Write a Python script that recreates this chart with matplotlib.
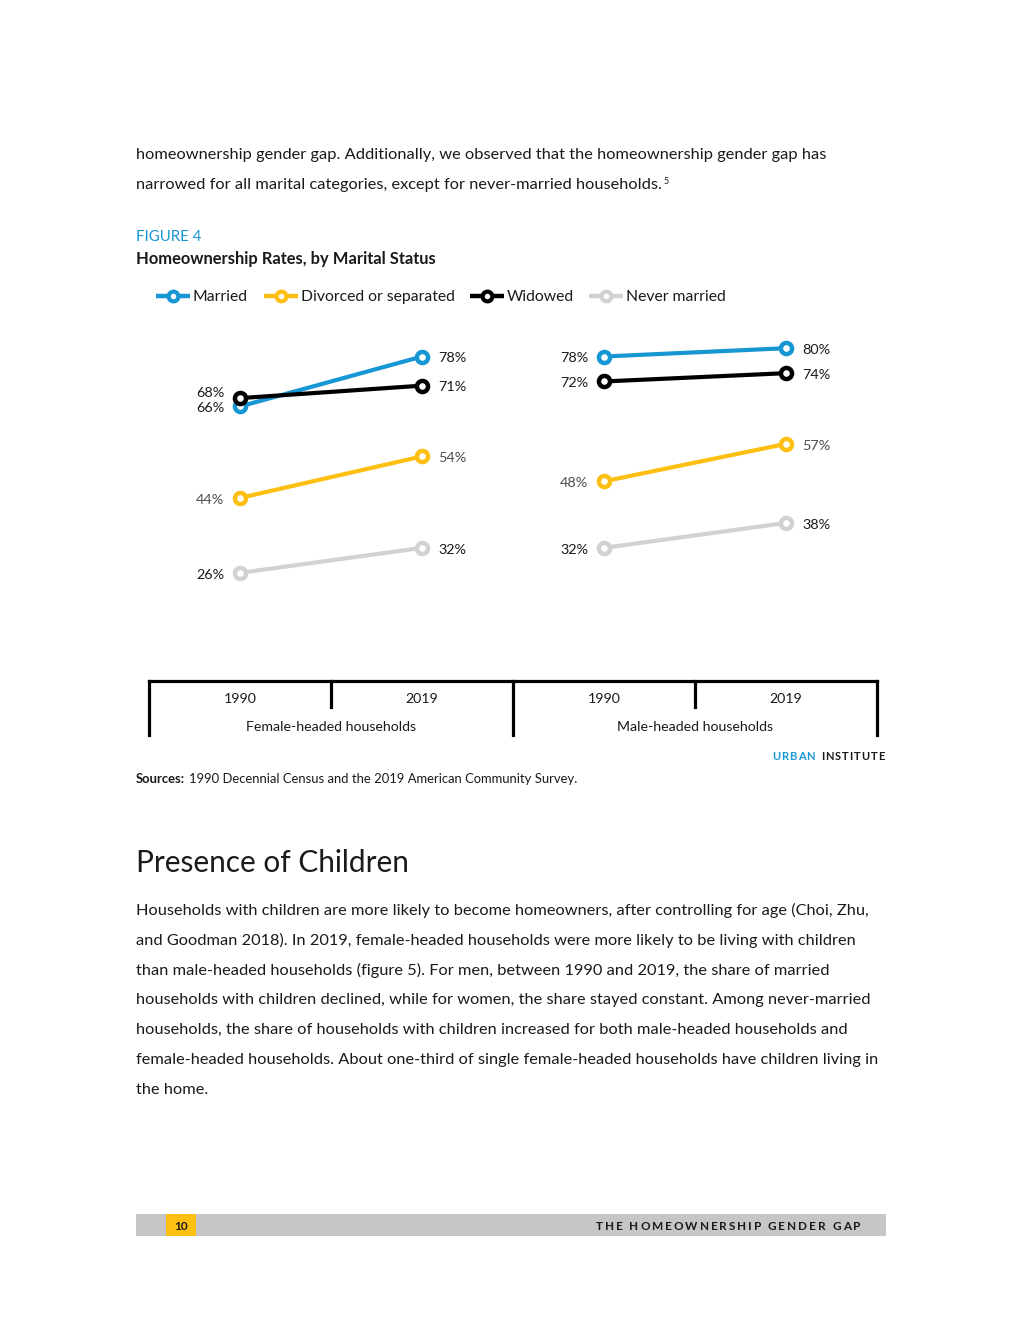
import matplotlib.pyplot as plt
from matplotlib.patches import Rectangle

plt.rcParams['font.family'] = ['Lato', 'DejaVu Sans']

# data
groups = ['Female-headed households', 'Male-headed households']
years = ['1990', '2019']
series = ['Married', 'Divorced or separated', 'Widowed', 'Never married']
colors = ['#1696d2', '#fdbf11', '#000000', '#d2d2d2']
label_colors = ['#1a1a1a', '#4d4d4d', '#1a1a1a', '#1a1a1a']
female = [[66, 78], [44, 54], [68, 71], [26, 32]]
male = [[78, 80], [48, 57], [72, 74], [32, 38]]

intro = ['homeownership gender gap. Additionally, we observed that the homeownership gender gap has',
         'narrowed for all marital categories, except for never-married households.']
para = ['Households with children are more likely to become homeowners, after controlling for age (Choi, Zhu,',
        'and Goodman 2018). In 2019, female-headed households were more likely to be living with children',
        'than male-headed households (figure 5). For men, between 1990 and 2019, the share of married',
        'households with children declined, while for women, the share stayed constant. Among never-married',
        'households, the share of households with children increased for both male-headed households and',
        'female-headed households. About one-third of single female-headed households have children living in',
        'the home.']

W, H = 1020, 1320
fig = plt.figure(figsize=(W / 100, H / 100), dpi=100)
renderer = fig.canvas.get_renderer()

# page layer in pixel coords
pg = fig.add_axes([0, 0, 1, 1])
pg.set_xlim(0, W)
pg.set_ylim(H, 0)
pg.axis('off')

txt = '#1a1a1a'


def text_w(s, **kw):
    # advance width of s, measured against a '|' guard so spaces count
    t = pg.text(0, 0, s + '|', **kw)
    w = t.get_window_extent(renderer).width
    t.remove()
    g = pg.text(0, 0, '|', **kw)
    w -= g.get_window_extent(renderer).width
    g.remove()
    return w


def spaced(x_right, y, s, track, **kw):
    # letter-spaced text, right aligned at x_right (pixels)
    total = text_w(s, **kw) + track * (len(s) - 1)
    x0 = x_right - total
    for i, ch in enumerate(s):
        if ch == ' ':
            continue
        pg.text(x0 + text_w(s[:i], **kw) + track * i, y, ch, va='center', **kw)


for i, line in enumerate(intro):
    pg.text(136, 155 + 30 * i, line, fontsize=11.75, color=txt, va='center')
pg.text(664, 181, '5', fontsize=6.5, color=txt, va='center')
pg.text(136, 237, 'FIGURE 4', fontsize=10.8, color='#1696d2', va='center')
pg.text(136, 259, 'Homeownership Rates, by Marital Status', fontsize=11.9, color=txt,
        va='center', fontweight='bold')

# legend
leg_x = [156, 264, 470, 589]
for x, name, c in zip(leg_x, series, colors):
    pg.plot([x, x + 34], [296, 296], color=c, lw=3.2, solid_capstyle='butt')
    pg.plot([x + 17], [296], 'o', ms=7, mfc='white', mec=c, mew=3)
    pg.text(x + 37, 297, name, fontsize=11.3, color=txt, va='center')

# chart
ax = fig.add_axes([149 / W, 1 - 681 / H, 728 / W, (681 - 265) / H])
ax.set_xlim(0, 4)
ax.set_ylim(0, 100)
ax.axis('off')
for g, data in enumerate([female, male]):
    xs = [2 * g + 0.5, 2 * g + 1.5]
    for vals, c in zip(data, colors):
        ax.plot(xs, vals, '-o', color=c, lw=3, ms=8, mfc='white', mec=c, mew=3.2, zorder=3)
for g, data in enumerate([female, male]):
    xs = [2 * g + 0.5, 2 * g + 1.5]
    for k, (vals, lc) in enumerate(zip(data, label_colors)):
        y0, y1 = vals
        off0 = 1.7 if (g == 0 and k == 2) else 0
        ax.annotate(f'{y0}%', (xs[0], y0 + off0), xytext=(-11.5, -1.2), textcoords='offset points',
                    ha='right', va='center', fontsize=10.4, color=lc)
        ax.annotate(f'{y1}%', (xs[1], y1), xytext=(11.5, -1.2), textcoords='offset points',
                    ha='left', va='center', fontsize=10.4, color=lc)

# category axis
pg.plot([149, 877], [681, 681], color='black', lw=2.3, solid_capstyle='projecting')
for x in [149, 513, 877]:
    pg.plot([x, x], [681, 735], color='black', lw=2.3)
for x in [331, 695]:
    pg.plot([x, x], [681, 707], color='black', lw=2.3)
for g, name in enumerate(groups):
    for j, yr in enumerate(years):
        pg.text(240 + 364 * g + 182 * j, 699, yr, fontsize=10.2, color=txt, ha='center', va='center')
    pg.text(331 + 364 * g, 727, name, fontsize=10.2, color=txt, ha='center', va='center')

spaced(815, 756, 'URBAN', 1.1, fontsize=8, color='#1696d2', fontweight='bold')
spaced(885, 756, 'INSTITUTE', 1.1, fontsize=8, color=txt, fontweight='bold')
pg.text(136, 779, 'Sources:', fontsize=9.4, color=txt, va='center', fontweight='bold')
pg.text(189, 779, '1990 Decennial Census and the 2019 American Community Survey.',
        fontsize=9.4, color=txt, va='center')

pg.text(136, 863, 'Presence of Children', fontsize=21.4, color=txt, va='center')
for i, line in enumerate(para):
    pg.text(136, 910 + 30 * i, line, fontsize=11.75, color=txt, va='center')

# footer
pg.add_patch(Rectangle((136, 1214), 750, 22, color='#c6c6c6', lw=0))
pg.add_patch(Rectangle((166, 1214), 30, 22, color='#fdbf11', lw=0))
pg.text(181, 1226, '10', fontsize=8.5, color=txt, ha='center', va='center', fontweight='bold')
spaced(860, 1226, 'THE HOMEOWNERSHIP GENDER GAP', 1.9, fontsize=8.5, color=txt, fontweight='bold')

fig.savefig('out.png', dpi=100)
